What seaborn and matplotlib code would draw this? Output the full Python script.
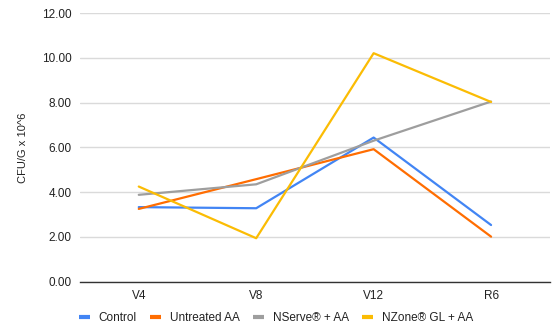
import matplotlib
matplotlib.use("Agg")
import matplotlib.pyplot as plt
import seaborn as sns
import pandas as pd

stages = ["V4", "V8", "V12", "R6"]
control = [3.33, 3.28, 6.44, 2.53]
untreated_aa = [3.25, 4.58, 5.92, 2.01]
nserve_aa = [3.88, 4.35, 6.30, 8.05]
nzone_gl_aa = [4.25, 1.94, 10.21, 8.03]

series_names = ["Control", "Untreated AA", "NServe® + AA", "NZone® GL + AA"]
series_values = [control, untreated_aa, nserve_aa, nzone_gl_aa]
colors = ["#4285F4", "#FF6D01", "#9E9E9E", "#FBBC04"]

rows = []
for name, vals in zip(series_names, series_values):
    for i, (s, v) in enumerate(zip(stages, vals)):
        rows.append({"stage": s, "pos": i, "value": v, "series": name})
df = pd.DataFrame(rows)

sns.set_theme(style="white")
plt.rcParams["font.family"] = ["Liberation Sans", "DejaVu Sans"]

fig = plt.figure(figsize=(5.52, 3.29), dpi=100)
ax = fig.add_axes([0.145, 0.144, 0.851, 0.816])

sns.lineplot(data=df, x="pos", y="value", hue="series", hue_order=series_names,
             palette=colors, linewidth=1.6, ax=ax, legend=False, sort=False)

fs = 8.5
ax.set_xlim(-0.5, 3.5)
ax.set_ylim(0, 12)
ax.set_yticks([0, 2, 4, 6, 8, 10, 12])
ax.set_yticklabels([f"{v:.2f}" for v in [0, 2, 4, 6, 8, 10, 12]], fontsize=fs, color="#222222")
ax.set_xticks(range(len(stages)))
ax.set_xticklabels(stages, fontsize=fs, color="#222222")
ax.tick_params(axis="both", length=0, pad=6)
ax.set_xlabel("")
ax.set_ylabel("CFU/G x 10^6", fontsize=8, color="#222222", labelpad=10)

ax.grid(axis="y", color="#DADADA", linewidth=1)
ax.set_axisbelow(True)
for side in ["top", "right", "left"]:
    ax.spines[side].set_visible(False)
ax.spines["bottom"].set_color("#333333")
ax.spines["bottom"].set_linewidth(1)

handles = [plt.Line2D([0], [0], color=c, linewidth=3, solid_capstyle="butt") for c in colors]
fig.legend(handles, series_names, loc="center", bbox_to_anchor=(0.5, 0.032), ncol=4,
           frameon=False, fontsize=fs, handlelength=0.95, handletextpad=0.7,
           columnspacing=1.15, labelcolor="#222222")

fig.savefig("out.png", dpi=100)
